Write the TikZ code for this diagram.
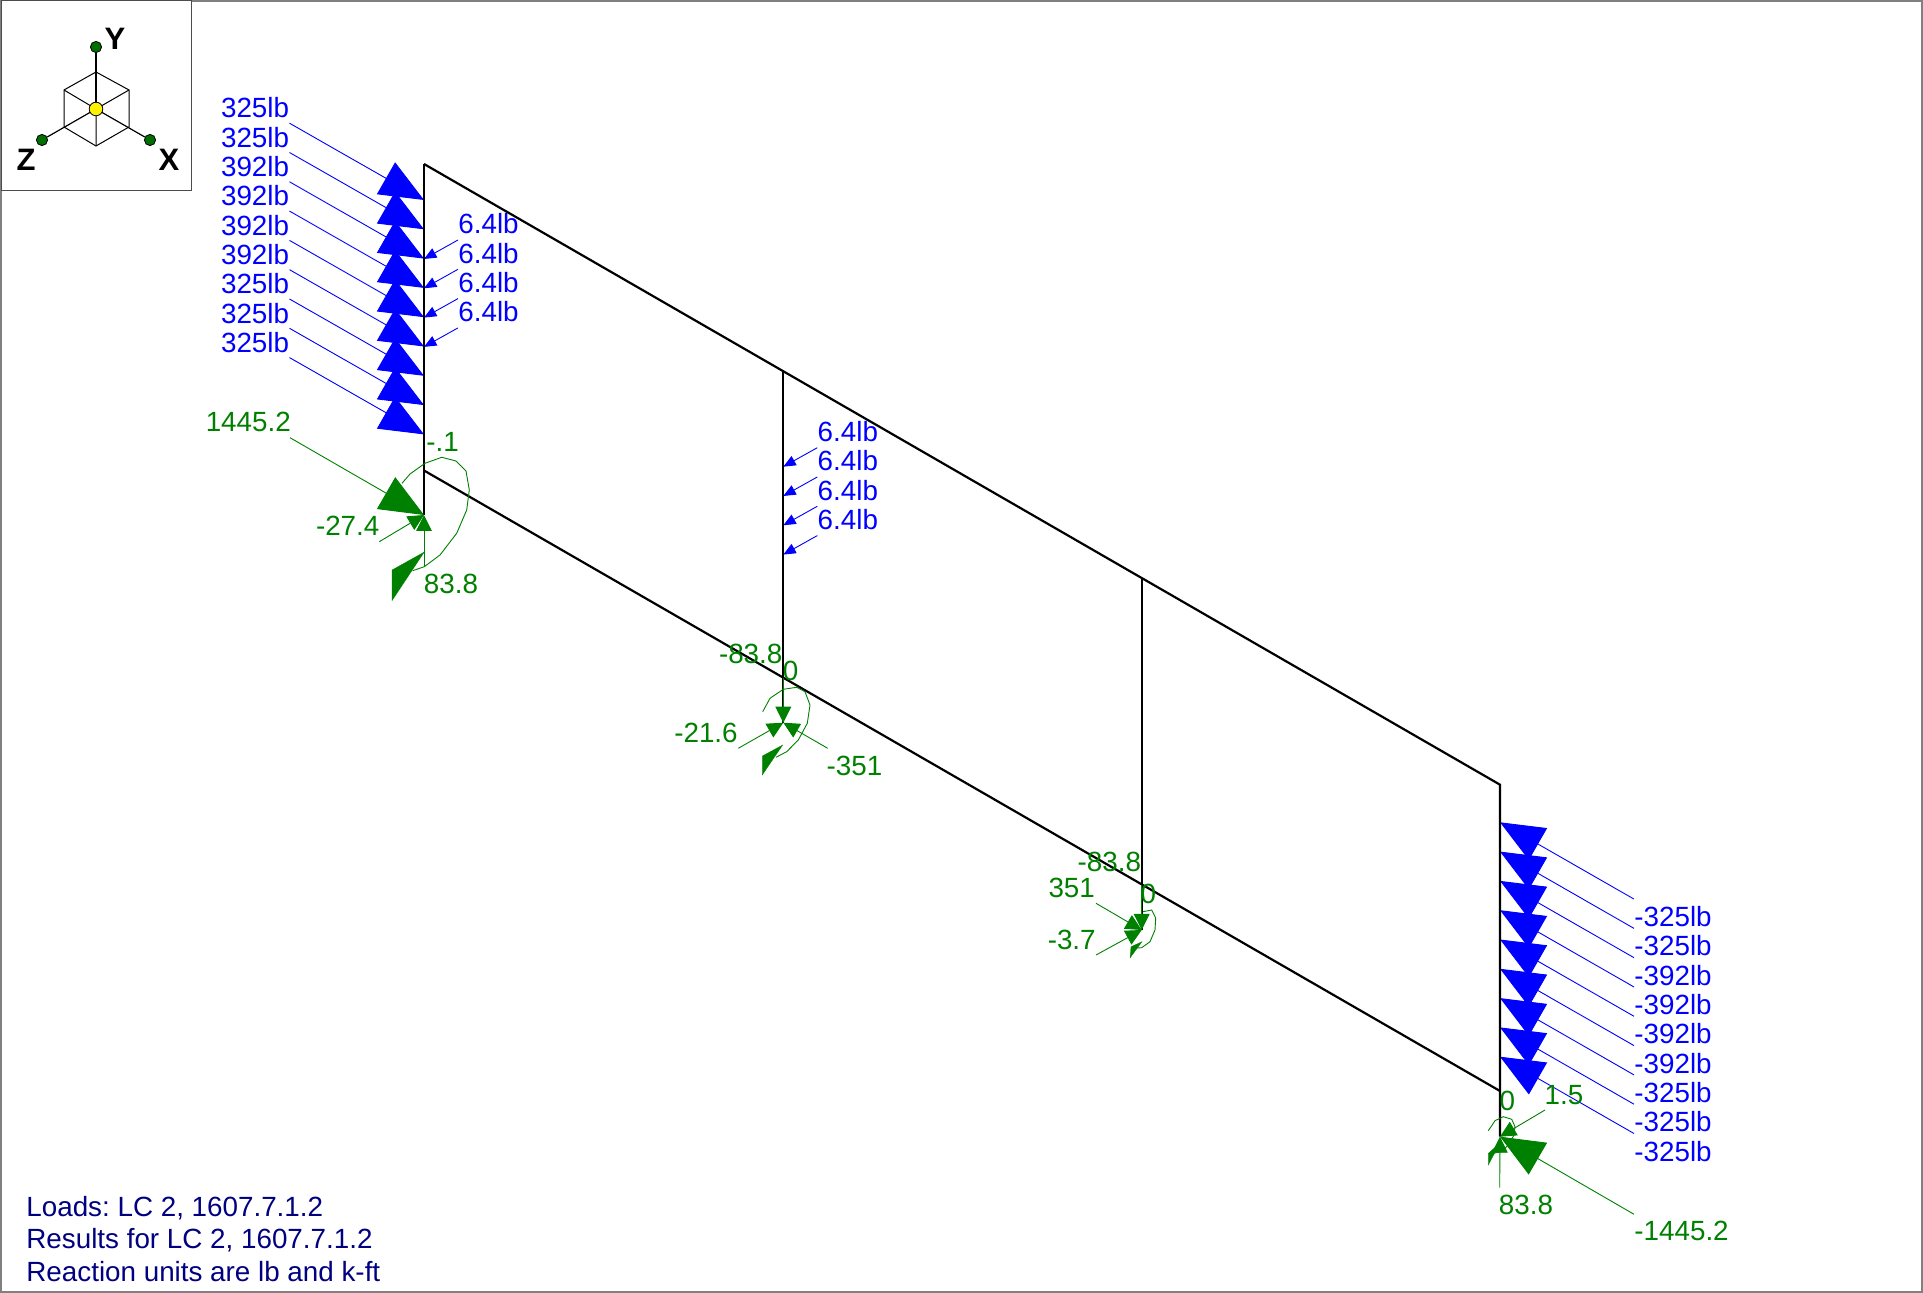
\documentclass[tikz,border=0pt]{standalone}
\usepackage{fontspec}
\setmainfont{Liberation Sans}
\usetikzlibrary{arrows.meta,positioning}
\definecolor{loadblue}{RGB}{0,0,255}
\definecolor{reactgreen}{RGB}{0,128,0}
\definecolor{dotgreen}{RGB}{0,110,0}
\definecolor{noteblue}{RGB}{0,0,128}

\begin{document}
\begin{tikzpicture}
  [x=.5pt,y=-.5pt,
   member/.style={black,line width=1.1pt},
   hair/.style={line width=.45pt},
   bigtip/.style={-{Triangle[length=21.9pt,width=18.3pt]}},
   midtip/.style={-{Triangle[length=8pt,width=7.8pt]}},
   lowtip/.style={-{Triangle[length=6.2pt,width=5.2pt]}},
   load/.style={hair,loadblue},
   react/.style={hair,reactgreen},
   lbl/.style={inner sep=0pt,font=\fontsize{13.9pt}{15pt}\selectfont\frenchspacing},
   note/.style={lbl,noteblue,anchor=base west},
   axislbl/.style={inner sep=0pt,font=\fontsize{15.5pt}{16pt}\selectfont\bfseries},
   axisdot/.style={circle,draw=black,fill=dotgreen,line width=.4pt,inner sep=0pt,minimum size=5.6pt}]

  \useasboundingbox (0,0) rectangle (1923,1293);
  \draw[gray,line width=1pt] (1,1) rectangle (1922,1292);

  % frame
  \coordinate (ntl) at (424,164);
  \coordinate (nbl) at (424,470.5);
  \coordinate (n2t) at (783.3,371);
  \coordinate (n2b) at (783.3,677.7);
  \coordinate (n3t) at (1141.7,578);
  \coordinate (n3b) at (1141.7,884.7);
  \coordinate (ntr) at (1500,784.7);
  \coordinate (nbr) at (1500,1091);
  \coordinate (sup1) at (424,515);
  \coordinate (sup2) at (783.3,722.7);
  \coordinate (sup3) at (1141.7,930);
  \coordinate (sup4) at (1500,1136.7);

  % wind on the end columns
  \foreach \i/\val in {0/325,1/325,2/392,3/392,4/392,5/392,6/325,7/325,8/325} {
    \node[lbl,loadblue,anchor=east] (wl\i) at (289.5,108+29.3*\i) {\val lb};
    \coordinate (wt\i) at (424,200+29.3*\i);
    \draw[load,bigtip] ([yshift=-7.6pt]wl\i.east) -- (wt\i);
  }
  \foreach \i/\val in {0/325,1/325,2/392,3/392,4/392,5/392,6/325,7/325,8/325} {
    \node[lbl,loadblue,anchor=west] (wr\i) at (1634,916.7+29.3*\i) {-\val lb};
    \coordinate (wu\i) at (1500,822.3+29.3*\i);
    \draw[load,bigtip] ([yshift=8.8pt]wr\i.west) -- (wu\i);
  }

  % self weight
  \foreach \i in {0,...,3} {
    \node[lbl,loadblue,anchor=west] (sa\i) at (458,224+29.3*\i) {6.4lb};
    \coordinate (st\i) at (424,259+29.3*\i);
    \draw[load,lowtip] ([yshift=-8pt]sa\i.west) -- (st\i);
    \node[lbl,loadblue,anchor=west] (sb\i) at (817.3,431.7+29.3*\i) {6.4lb};
    \coordinate (su\i) at (783.3,466.7+29.3*\i);
    \draw[load,lowtip] ([yshift=-8pt]sb\i.west) -- (su\i);
  }

  \draw[member] (ntl) -- (ntr) -- (sup4);
  \draw[member] (nbl) -- (nbr);
  \draw[member] (ntl) -- (sup1);
  \draw[member] (n2t) -- (sup2);
  \draw[member] (n3t) -- (sup3);

  % first support
  \node[lbl,reactgreen] (r1x) at (248.3,421.7) {1445.2};
  \node[lbl,reactgreen] (r1z) at (347.7,525.7) {-27.4};
  \node[lbl,reactgreen,anchor=west] (r1y) at (426,441.7) {-.1};
  \node[lbl,reactgreen] (r1m) at (451,584.3) {83.8};
  \coordinate (r1xb) at (290,437.7);
  \coordinate (r1zb) at (379.3,541.7);
  \coordinate (r1yb) at (424,567);
  \draw[react,bigtip] (r1xb) -- (sup1);
  \draw[react,midtip] (r1zb) -- (sup1);
  \draw[react,midtip] (r1yb) -- (sup1);
  \draw[react] (402,483.3) -- (410,474) -- (425,463.3) -- (441.7,457.3) -- (456,461)
    -- (466,471) -- (469.3,490) -- (466.7,510) -- (456.7,533.3) -- (440,555) -- (424.3,566.7) -- (412.7,570.7);
  \filldraw[reactgreen,line width=.1pt] (424.3,552) -- (392,570) -- (392,600.7) -- cycle;

  % second support
  \node[lbl,reactgreen] (r2y) at (750.7,654) {-83.8};
  \node[lbl,reactgreen] (r2t) at (790.7,670.7) {0};
  \node[lbl,reactgreen] (r2z) at (706,732.7) {-21.6};
  \node[lbl,reactgreen] (r2x) at (854.5,766) {-351};
  \coordinate (r2zb) at (738.3,748.3);
  \coordinate (r2xb) at (827.7,748.3);
  \draw[react,midtip] (r2zb) -- (sup2);
  \draw[react,midtip] (r2xb) -- (sup2);
  \draw[reactgreen,line width=.7pt,midtip] (n2b) -- (sup2);
  \draw[react] (762.7,711.7) -- (770,698.3) -- (783.3,689.3) -- (796.7,687.3) -- (805,691.7)
    -- (810,705) -- (807.3,723.3) -- (798.3,740) -- (786.7,751.7) -- (776,757.3);
  \filldraw[reactgreen,line width=.1pt] (782.7,745) -- (762.3,756) -- (762.3,775) -- cycle;

  % third support
  \node[lbl,reactgreen] (r3y) at (1109.3,861.7) {-83.8};
  \node[lbl,reactgreen] (r3t) at (1148.3,894) {0};
  \node[lbl,reactgreen] (r3x) at (1071.7,887.7) {351};
  \node[lbl,reactgreen] (r3z) at (1071.7,940) {-3.7};
  \coordinate (r3xb) at (1096,903.3);
  \coordinate (r3zb) at (1096,955);
  \draw[react,midtip] (r3xb) -- (sup3);
  \draw[react,midtip] (r3zb) -- (sup3);
  \draw[reactgreen,line width=.7pt,midtip] (n3b) -- (sup3);
  \draw[react] (1143,911.7) -- (1151.7,910) -- (1155.7,918) -- (1155,930) -- (1150,941.7)
    -- (1141.7,947.7) -- (1136.7,948);
  \filldraw[reactgreen,line width=.1pt] (1142,941.7) -- (1131,946.7) -- (1130,958) -- cycle;

  % fourth support
  \node[lbl,reactgreen] (r4t) at (1507.3,1100.7) {0};
  \node[lbl,reactgreen] (r4z) at (1564,1095) {1.5};
  \node[lbl,reactgreen] (r4m) at (1526,1205) {83.8};
  \node[lbl,reactgreen,anchor=west] (r4x) at (1634,1230.7) {-1445.2};
  \coordinate (r4xb) at (1634,1214.3);
  \coordinate (r4zb) at (1545,1110);
  \coordinate (r4yb) at (1499.7,1187.7);
  \draw[react,bigtip] (r4xb) -- (sup4);
  \draw[react,midtip] (r4zb) -- (sup4);
  \draw[react,midtip] (r4yb) -- (sup4);
  \draw[react] (1488.3,1130.7) -- (1495,1120.7) -- (1503.3,1116.7) -- (1511.7,1119.3) -- (1515,1126.7)
    -- (1514,1135) -- (1508.3,1145) -- (1501.7,1151.7) -- (1493.3,1153.3);
  \filldraw[reactgreen,line width=.1pt] (1500,1143) -- (1488.3,1153.3) -- (1488.3,1165) -- cycle;

  % notes
  \node[note] (note1) at (26,1216) {Loads: LC 2, 1607.7.1.2};
  \node[note] (note2) at (26,1248.3) {Results for LC 2, 1607.7.1.2};
  \node[note] (note3) at (26,1281.5) {Reaction units are lb and k-ft};

  % axes
  \draw[fill=white,draw=gray!60!black,line width=.5pt] (1,1) rectangle (191,191);
  \coordinate (org) at (96,109);
  \coordinate (hexn) at (96,72);
  \coordinate (hexne) at (129,90);
  \coordinate (hexse) at (129,127);
  \coordinate (hexs) at (96,146);
  \coordinate (hexsw) at (64,127);
  \coordinate (hexnw) at (64,90);
  \draw[line width=.5pt] (hexn) -- (hexne) -- (hexse) -- (hexs) -- (hexsw) -- (hexnw) -- cycle;
  \draw[line width=.5pt] (org) -- (hexnw) (org) -- (hexne) (org) -- (hexs);
  \node[axisdot] (doty) at (96,47) {};
  \node[axisdot] (dotz) at (42,140) {};
  \node[axisdot] (dotx) at (150,140) {};
  \draw[line width=.6pt] (org) -- (doty);
  \draw[line width=.6pt] (org) -- (dotz);
  \draw[line width=.6pt] (org) -- (dotx);
  \node[circle,draw=black,fill=yellow,line width=.4pt,inner sep=0pt,minimum size=6.8pt] (orgdot) at (org) {};
  \node[axislbl] (laby) at (115,39) {Y};
  \node[axislbl] (labz) at (26,160) {Z};
  \node[axislbl] (labx) at (169,160) {X};
\end{tikzpicture}
\end{document}
